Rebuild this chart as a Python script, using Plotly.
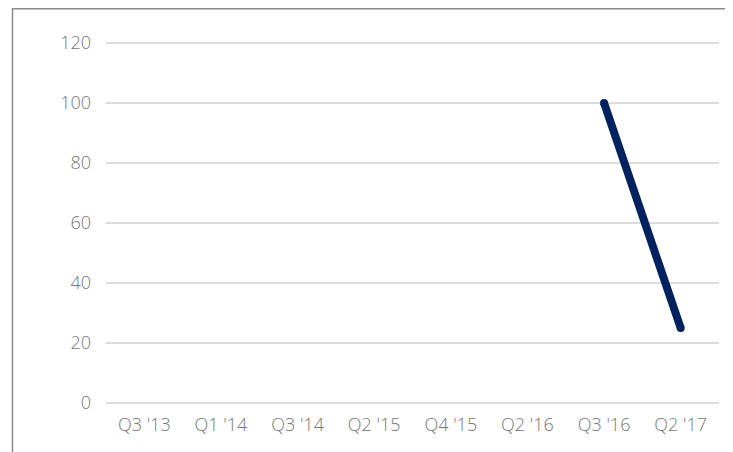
import plotly.graph_objects as go

categories = ["Q3 '13", "Q1 '14", "Q3 '14", "Q2 '15", "Q4 '15", "Q2 '16", "Q3 '16", "Q2 '17"]
values = [None, None, None, None, None, None, 100, 25]
y_ticks = [0, 20, 40, 60, 80, 100, 120]

# page body adds an 8px offset; figure sized to fill the window
W, H = 725, 444
L, R, T, B = 98, 14, 29, 43
pw = W - L - R
ph = H - T - B

fig = go.Figure()
fig.add_trace(go.Scatter(
    x=categories, y=values, mode="lines+markers",
    line=dict(color="#01225E", width=8),
    marker=dict(color="#01225E", size=8),
    connectgaps=False, hoverinfo="skip", showlegend=False,
))

font = dict(family="Open Sans", size=18, color="#777777", weight=300)
fig.update_layout(
    width=W, height=H,
    margin=dict(l=L, r=R, t=T, b=B, pad=0),
    paper_bgcolor="white", plot_bgcolor="white",
    font=font,
    xaxis=dict(type="category", categoryorder="array", categoryarray=categories,
               range=[-0.5, 7.5], showgrid=False, zeroline=False, showline=False,
               ticks="", tickfont=font, ticklabelstandoff=3),
    yaxis=dict(range=[-2, 122], tickvals=y_ticks, showgrid=True, gridcolor="#dcdcdc",
               gridwidth=1.5, zeroline=False, showline=False, ticks="",
               tickfont=font, ticklabelstandoff=14),
    shapes=[dict(type="rect", xref="paper", yref="paper",
                 x0=(4.5 - L) / pw, x1=(720 - L) / pw,
                 y0=(H - B - 470) / ph, y1=(H - B - 0.75) / ph,
                 line=dict(color="#8c8c8c", width=1.5), fillcolor="rgba(0,0,0,0)",
                 layer="below")],
)

fig.write_html("out.html")
